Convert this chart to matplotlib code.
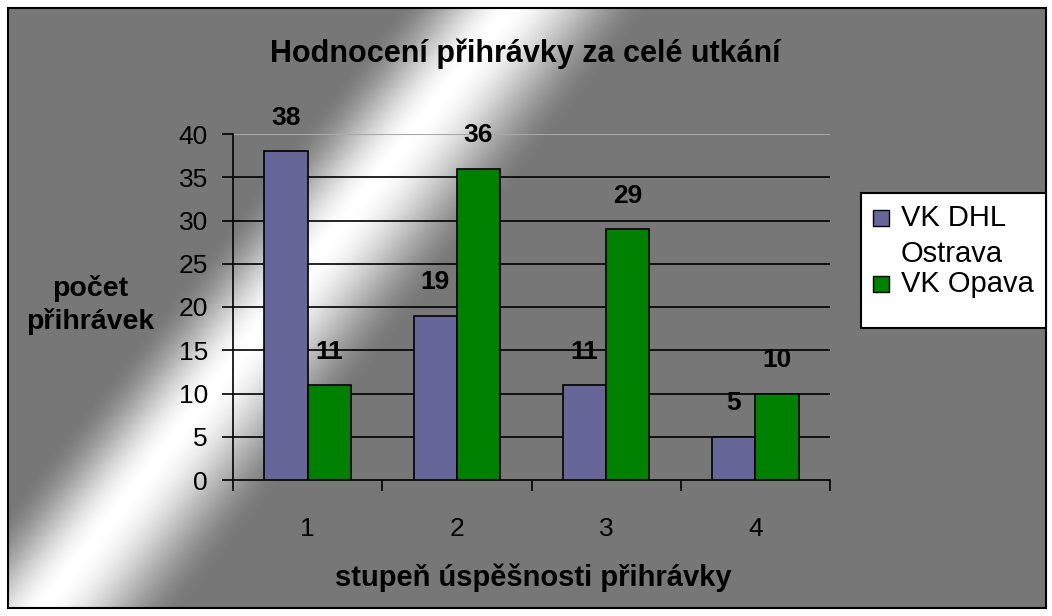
import numpy as np
import matplotlib
matplotlib.use("Agg")
import matplotlib.pyplot as plt
from matplotlib.patches import Rectangle

plt.rcParams['font.family'] = ['Liberation Sans', 'DejaVu Sans']

# data
categories = ["1", "2", "3", "4"]
series_names = ["VK DHL Ostrava", "VK Opava"]
legend_labels = ["VK DHL\nOstrava", "VK Opava"]
ostrava = [38, 19, 11, 5]
opava = [11, 36, 29, 10]
values = [ostrava, opava]
colors = ["#666699", "#008000"]
yticks = [0, 5, 10, 15, 20, 25, 30, 35, 40]

W, H = 1052, 616
fig = plt.figure(figsize=(W / 100, H / 100), dpi=100)

# pozadi s diagonalnim prechodem
bg = fig.add_axes([0, 0, 1, 1], zorder=0)
yy, xx = np.mgrid[0:H, 0:W].astype(float)
x0 = 500 - 0.78 * (yy - 20)
d = xx - x0
hw = np.where(d < 0, 115.0, 145.0)
b = np.clip(1 - np.abs(d) / hw, 0, 1)
b = b * b * (3 - 2 * b)
gray = 0x77 / 255
val = gray + (1 - gray) * b
inside = (xx >= 8) & (xx <= 1046) & (yy >= 8) & (yy <= 608)
val = np.where(inside, val, 1.0)
img = np.dstack([val, val, val])
bg.imshow(img, extent=[0, W, H, 0], aspect='auto', interpolation='bilinear')
bg.set_xlim(0, W)
bg.set_ylim(H, 0)
bg.axis('off')
bg.add_patch(Rectangle((8, 8), 1038, 600, fill=False, edgecolor='black', lw=1.5))

# graf
ax = fig.add_axes([233 / W, 136 / H, 597 / W, 346 / H], zorder=1)
ax.set_facecolor('none')
x = np.arange(1, len(categories) + 1)
bw = 0.29
for k, (vals, c) in enumerate(zip(values, colors)):
    pos = x + (k - 0.5) * bw
    ax.bar(pos, vals, width=bw, color=c, edgecolor='black', linewidth=1.2, zorder=3)
    for px, v in zip(pos, vals):
        ax.annotate(str(v), (px, v), xytext=(0, 24), textcoords='offset points',
                    ha='center', va='center', fontsize=19, fontweight='bold', zorder=4)

ax.set_xlim(0.5, len(categories) + 0.5)
ax.set_ylim(0, 40)
ax.set_yticks(yticks)
for t in yticks[1:-1]:
    ax.axhline(t, color='black', lw=1.2, zorder=1)
ax.axhline(40, color='#a8a8a8', lw=0.8, zorder=1)

for s in ['top', 'right']:
    ax.spines[s].set_visible(False)
for s in ['left', 'bottom']:
    ax.spines[s].set_linewidth(1.2)

ax.tick_params(axis='y', direction='out', length=8, width=1.2, pad=10, labelsize=19)
ax.set_xticks(np.arange(0.5, len(categories) + 1, 1))
ax.set_xticklabels([])
ax.set_xticks(x, minor=True)
ax.set_xticklabels(categories, minor=True)
ax.tick_params(axis='x', which='major', direction='out', length=8, width=1.2)
ax.tick_params(axis='x', which='minor', length=0, pad=27, labelsize=19)

# texty
fig.text(525 / W, 1 - 54 / H, "Hodnocení přihrávky za celé utkání",
         ha='center', va='center', fontsize=22, fontweight='bold')
fig.text(90 / W, 1 - 305 / H, "počet\npřihrávek", ha='center', va='center',
         fontsize=20.5, fontweight='bold', linespacing=1.3)
fig.text(533 / W, 1 - 578 / H, "stupeň úspěšnosti přihrávky", ha='center',
         va='center', fontsize=21, fontweight='bold')

# legenda
bg.add_patch(Rectangle((861, 193), 185, 135, facecolor='white', edgecolor='black', lw=1.5, zorder=2))
entry_y = [218, 284]
for lab, c, ey in zip(legend_labels, colors, entry_y):
    bg.add_patch(Rectangle((873, ey - 8), 16, 16, facecolor=c, edgecolor='black', lw=1, zorder=3))
    bg.text(901, ey - 14, lab, ha='left', va='top', fontsize=21, linespacing=1.38, zorder=3)

fig.savefig("out.png", dpi=100)
